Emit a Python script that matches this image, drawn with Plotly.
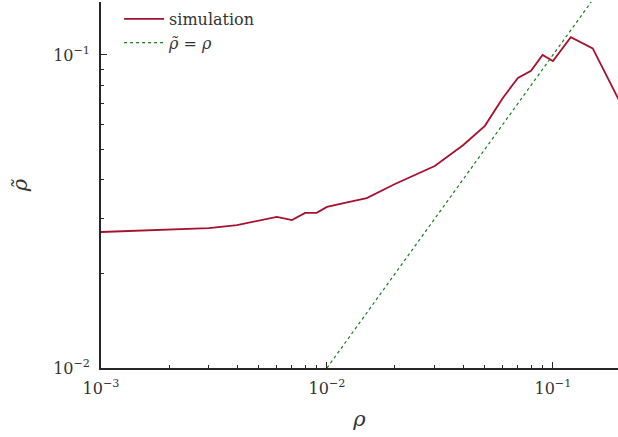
import numpy as np
import plotly.graph_objects as go

rho = [0.001, 0.003, 0.004, 0.006, 0.007, 0.008, 0.009, 0.010, 0.012, 0.015,
       0.020, 0.030, 0.040, 0.050, 0.060, 0.070, 0.080, 0.090, 0.100, 0.120,
       0.150, 0.200]
rho_tilde = [0.0272, 0.0280, 0.0286, 0.0304, 0.0297, 0.0313, 0.0313, 0.0327,
             0.0337, 0.0349, 0.0387, 0.0442, 0.0515, 0.0594, 0.0729, 0.0845,
             0.0890, 0.1000, 0.0957, 0.1140, 0.1050, 0.0697]
ident_x = [0.01, 0.2]
ident_y = [0.01, 0.2]

x_major = [0.001, 0.01, 0.1]
x_major_text = ["10<sup>−3</sup>", "10<sup>−2</sup>", "10<sup>−1</sup>"]
y_major = [0.01, 0.1]
y_major_text = ["10<sup>−2</sup>", "10<sup>−1</sup>"]
x_minor = [m * d for d in [0.001, 0.01, 0.1] for m in range(2, 10)]
y_minor = [m * d for d in [0.01, 0.1] for m in range(2, 10)]

FONT = "DejaVu Serif"
AX = "#262626"
TXT = "#333333"

fig = go.Figure()
fig.add_trace(go.Scatter(x=rho, y=rho_tilde, mode="lines", name="simulation",
                         line=dict(color="#A6112F", width=1.8)))
fig.add_trace(go.Scatter(x=ident_x, y=ident_y, mode="lines",
                         name="<i>ρ̃</i> = <i>ρ</i>",
                         line=dict(color="#1b7a1b", width=1.2, dash="dot")))

fig.update_layout(
    width=618, height=437,
    margin=dict(l=101, r=0, t=2, b=69),
    paper_bgcolor="white", plot_bgcolor="white",
    font=dict(family=FONT, size=16, color=TXT),
    showlegend=True,
    legend=dict(x=0.035, y=1.0, xanchor="left", yanchor="top",
                bgcolor="rgba(0,0,0,0)", font=dict(size=16, family=FONT, color=TXT),
                itemwidth=40, tracegroupgap=2),
)
fig.update_xaxes(
    type="log", range=[-3, -0.712],
    showgrid=False, zeroline=False,
    showline=True, linecolor=AX, linewidth=1.6, mirror=False,
    tickmode="array", tickvals=x_major, ticktext=x_major_text,
    ticks="inside", ticklen=6, tickwidth=1, tickcolor=AX,
    minor=dict(tickmode="array", tickvals=x_minor, ticks="inside",
               ticklen=3, tickwidth=0.8, tickcolor=AX, showgrid=False),
    tickfont=dict(size=16, family=FONT, color=TXT),
    ticklabelstandoff=5,
    title=dict(text="<i>ρ</i>", font=dict(size=21, family=FONT, color=TXT),
               standoff=14),
)
fig.update_yaxes(
    type="log", range=[-2, -0.8307],
    showgrid=False, zeroline=False,
    showline=True, linecolor=AX, linewidth=1.6, mirror=False,
    tickmode="array", tickvals=y_major, ticktext=y_major_text,
    ticks="inside", ticklen=6, tickwidth=1, tickcolor=AX,
    minor=dict(tickmode="array", tickvals=y_minor, ticks="inside",
               ticklen=3, tickwidth=0.8, tickcolor=AX, showgrid=False),
    tickfont=dict(size=16, family=FONT, color=TXT),
    ticklabelstandoff=6,
    title=dict(text="<i>ρ̃</i>", font=dict(size=21, family=FONT, color=TXT),
               standoff=20),
)

fig.write_html("out.html")
